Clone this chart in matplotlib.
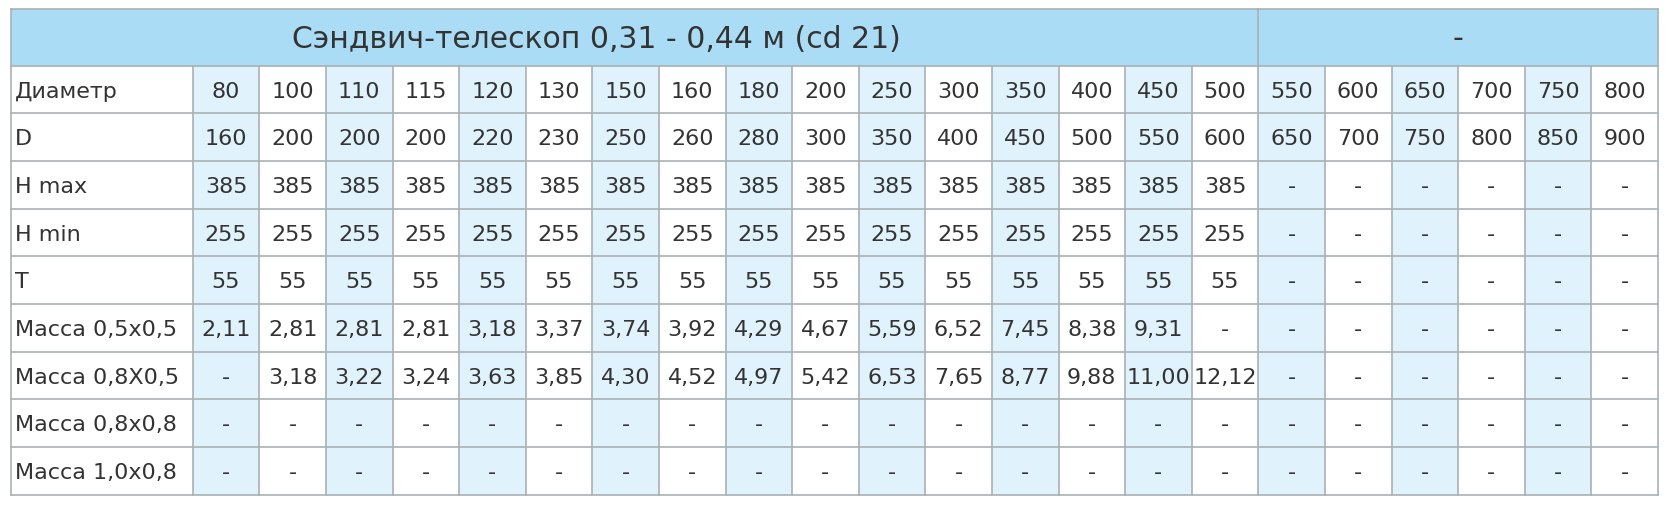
import matplotlib.pyplot as plt
from matplotlib.patches import Rectangle

# table content
title_left = "Сэндвич-телескоп 0,31 - 0,44 м (cd 21)"
title_right = "-"
row_labels = ["Диаметр", "D", "H max", "H min", "T",
              "Масса 0,5x0,5", "Масса 0,8X0,5", "Масса 0,8x0,8", "Масса 1,0x0,8"]

diam = ["80", "100", "110", "115", "120", "130", "150", "160", "180", "200", "250",
        "300", "350", "400", "450", "500", "550", "600", "650", "700", "750", "800"]
d_vals = ["160", "200", "200", "200", "220", "230", "250", "260", "280", "300", "350",
          "400", "450", "500", "550", "600", "650", "700", "750", "800", "850", "900"]
h_max = ["385"] * 16 + ["-"] * 6
h_min = ["255"] * 16 + ["-"] * 6
t_vals = ["55"] * 16 + ["-"] * 6
m_05_05 = ["2,11", "2,81", "2,81", "2,81", "3,18", "3,37", "3,74", "3,92", "4,29", "4,67",
           "5,59", "6,52", "7,45", "8,38", "9,31", "-"] + ["-"] * 6
m_08_05 = ["-", "3,18", "3,22", "3,24", "3,63", "3,85", "4,30", "4,52", "4,97", "5,42",
           "6,53", "7,65", "8,77", "9,88", "11,00", "12,12"] + ["-"] * 6
m_08_08 = ["-"] * 22
m_10_08 = ["-"] * 22
rows = [diam, d_vals, h_max, h_min, t_vals, m_05_05, m_08_05, m_08_08, m_10_08]
n_left = 16  # columns under the left title

# layout (pixels)
W, H = 1669, 506
x0, y0 = 11, 10
label_w = 181.7
col_w = 66.6
head_h = 56.7
row_h = 47.67

head_col = "#abdcf5"
shade_col = "#e0f2fb"
line_col = "#a9b1b5"
text_col = "#333333"

fig = plt.figure(figsize=(W / 100, H / 100), dpi=100)
ax = fig.add_axes([0, 0, 1, 1])
ax.set_xlim(0, W)
ax.set_ylim(H, 0)
ax.axis("off")

ncols = len(diam)
x_right = x0 + label_w + ncols * col_w
x_split = x0 + label_w + n_left * col_w
y_bottom = y0 + head_h + len(rows) * row_h

# header
ax.add_patch(Rectangle((x0, y0), x_right - x0, head_h, fc=head_col, ec="none"))
ax.text((x0 + x_split) / 2 - 38, y0 + head_h / 2 + 1, title_left, ha="center", va="center",
        fontsize=21.5, color=text_col)
ax.text((x_split + x_right) / 2, y0 + head_h / 2, title_right, ha="center", va="center",
        fontsize=21.5, color=text_col)

# shaded columns
for j in range(ncols):
    if j % 2 == 0:
        cx = x0 + label_w + j * col_w
        ax.add_patch(Rectangle((cx, y0 + head_h), col_w, len(rows) * row_h,
                               fc=shade_col, ec="none"))

# cell text
for i, (lab, vals) in enumerate(zip(row_labels, rows)):
    cy = y0 + head_h + (i + 0.5) * row_h
    ax.text(x0 + 4, cy + 1, lab, ha="left", va="center", fontsize=16, color=text_col)
    for j, v in enumerate(vals):
        cx = x0 + label_w + (j + 0.5) * col_w
        ax.text(cx, cy + 1, v, ha="center", va="center", fontsize=16, color=text_col)

# grid lines
lw = 1.2
ax.plot([x0, x_right], [y0, y0], color=line_col, lw=lw)
for i in range(len(rows) + 1):
    yy = y0 + head_h + i * row_h
    ax.plot([x0, x_right], [yy, yy], color=line_col, lw=lw)
ax.plot([x0, x0], [y0, y_bottom], color=line_col, lw=lw)
ax.plot([x_right, x_right], [y0, y_bottom], color=line_col, lw=lw)
ax.plot([x_split, x_split], [y0, y0 + head_h], color=line_col, lw=lw)
for j in range(ncols):
    xx = x0 + label_w + j * col_w
    ax.plot([xx, xx], [y0 + head_h, y_bottom], color=line_col, lw=lw)

fig.savefig("out.png", dpi=100)
